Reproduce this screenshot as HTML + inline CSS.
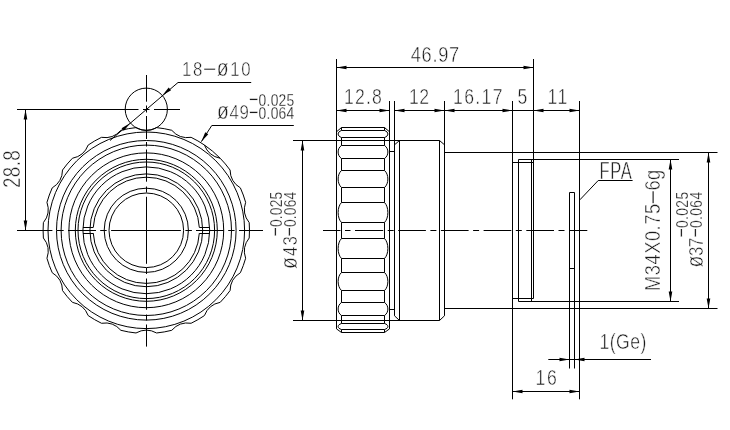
<!DOCTYPE html>
<html><head><meta charset="utf-8"><style>
html,body{margin:0;padding:0;background:#fff;}
svg{display:block;will-change:transform;}
.g line,.g circle,.g path,.g polyline{fill:none;stroke:#000;stroke-width:1;}
.g path.ar{fill:#000;stroke:none;}
.t text{font-family:"Liberation Sans",sans-serif;fill:#1a1a1a;stroke:#fff;stroke-width:0.5;}
</style></head><body>
<svg width="730" height="430" viewBox="0 0 730 430">
<rect width="730" height="430" fill="#fff"/>
<g class="g">
<circle cx="146.3" cy="230.3" r="37.3"/>
<circle cx="146.3" cy="230.3" r="42.1"/>
<circle cx="146.3" cy="230.3" r="56.4"/>
<circle cx="146.3" cy="230.3" r="68.3"/>
<circle cx="146.3" cy="230.3" r="71"/>
<circle cx="146.3" cy="230.3" r="77.4"/>
<circle cx="146.3" cy="230.3" r="85.2"/>
<circle cx="146.3" cy="230.3" r="89.8"/>
<circle cx="146.3" cy="230.3" r="98.3"/>
<circle cx="146.3" cy="230.3" r="63.4" stroke-width="1.7"/>
<path d="M199.32 227.4A53.1 53.1 0 0 0 93.28 227.4M93.28 233.2A53.1 53.1 0 0 0 199.32 233.2"/>
<line x1="199.33" y1="227.5" x2="209.64" y2="227.5"/>
<line x1="93.27" y1="227.5" x2="82.96" y2="227.5"/>
<line x1="199.3" y1="233.5" x2="209.62" y2="233.5"/>
<line x1="93.3" y1="233.5" x2="82.98" y2="233.5"/>
<path d="M156.6 127.62A21.1 21.1 0 0 1 136 127.62A103.2 103.2 0 0 0 120.86 130.29A21.1 21.1 0 0 1 101.5 137.33A103.2 103.2 0 0 0 88.19 145.02A21.1 21.1 0 0 1 72.41 158.26A103.2 103.2 0 0 0 62.52 170.04A21.1 21.1 0 0 1 52.22 187.88A103.2 103.2 0 0 0 46.96 202.33A21.1 21.1 0 0 1 43.39 222.61A103.2 103.2 0 0 0 43.39 237.99A21.1 21.1 0 0 1 46.96 258.27A103.2 103.2 0 0 0 52.22 272.72A21.1 21.1 0 0 1 62.52 290.56A103.2 103.2 0 0 0 72.41 302.34A21.1 21.1 0 0 1 88.19 315.58A103.2 103.2 0 0 0 101.5 323.27A21.1 21.1 0 0 1 120.86 330.31A103.2 103.2 0 0 0 136 332.98A21.1 21.1 0 0 1 156.6 332.98A103.2 103.2 0 0 0 171.74 330.31A21.1 21.1 0 0 1 191.1 323.27A103.2 103.2 0 0 0 204.41 315.58A21.1 21.1 0 0 1 220.19 302.34A103.2 103.2 0 0 0 230.08 290.56A21.1 21.1 0 0 1 240.38 272.72A103.2 103.2 0 0 0 245.64 258.27A21.1 21.1 0 0 1 249.21 237.99A103.2 103.2 0 0 0 249.21 222.61A21.1 21.1 0 0 1 245.64 202.33A103.2 103.2 0 0 0 240.38 187.88A21.1 21.1 0 0 1 230.08 170.04A103.2 103.2 0 0 0 220.19 158.26A21.1 21.1 0 0 1 204.41 145.02A103.2 103.2 0 0 0 191.1 137.33A21.1 21.1 0 0 1 171.74 130.29A103.2 103.2 0 0 0 156.6 127.62Z"/>
<path d="M220.19 158.26A103.2 103.2 0 0 0 204.41 145.02"/>
<circle cx="146.3" cy="109.2" r="21.1"/>
<line x1="146.5" y1="75" x2="146.5" y2="101.7"/>
<line x1="146.5" y1="105.5" x2="146.5" y2="112.5"/>
<line x1="146.5" y1="116" x2="146.5" y2="139"/>
<line x1="146.5" y1="142" x2="146.5" y2="146.5"/>
<line x1="146.5" y1="149.5" x2="146.5" y2="181.7"/>
<line x1="146.5" y1="186.5" x2="146.5" y2="192.5"/>
<line x1="146.5" y1="196.8" x2="146.5" y2="263.8"/>
<line x1="146.5" y1="268" x2="146.5" y2="274"/>
<line x1="146.5" y1="278.5" x2="146.5" y2="309.8"/>
<line x1="146.5" y1="314.5" x2="146.5" y2="320.5"/>
<line x1="146.5" y1="324.5" x2="146.5" y2="346.6"/>
<line x1="17" y1="230.5" x2="52.4" y2="230.5"/>
<line x1="57" y1="230.5" x2="63.7" y2="230.5"/>
<line x1="68" y1="230.5" x2="96" y2="230.5"/>
<line x1="100.2" y1="230.5" x2="106.7" y2="230.5"/>
<line x1="111.1" y1="230.5" x2="180.9" y2="230.5"/>
<line x1="185.4" y1="230.5" x2="191.9" y2="230.5"/>
<line x1="196" y1="230.5" x2="223.9" y2="230.5"/>
<line x1="228.2" y1="230.5" x2="234.6" y2="230.5"/>
<line x1="239" y1="230.5" x2="263" y2="230.5"/>
<line x1="17" y1="109.5" x2="138.5" y2="109.5"/>
<line x1="143" y1="109.5" x2="149.5" y2="109.5"/>
<line x1="154" y1="109.5" x2="180" y2="109.5"/>
<line x1="25.5" y1="109.5" x2="25.5" y2="230.5"/>
<path class="ar" d="M25.5 109.5L27.3 119.5L23.7 119.5Z"/>
<path class="ar" d="M25.5 230.5L23.7 220.5L27.3 220.5Z"/>
<line x1="110" y1="140.5" x2="178" y2="82.5"/>
<line x1="178" y1="82.5" x2="251.2" y2="82.5"/>
<path class="ar" d="M162.29 95.43L168.69 87.54L171.04 90.27Z"/>
<path class="ar" d="M130.31 122.97L123.91 130.86L121.56 128.13Z"/>
<line x1="201.3" y1="141.7" x2="211.8" y2="125.5"/>
<line x1="211.8" y1="125.5" x2="293.8" y2="125.5"/>
<path class="ar" d="M201.3 141.7L205.23 132.33L208.25 134.29Z"/>
<line x1="336.5" y1="59" x2="336.5" y2="328.9"/>
<line x1="533.5" y1="59" x2="533.5" y2="298.5"/>
<line x1="336.5" y1="67.5" x2="533.5" y2="67.5"/>
<path class="ar" d="M336.5 67.5L346.5 65.7L346.5 69.3Z"/>
<path class="ar" d="M533.5 67.5L523.5 69.3L523.5 65.7Z"/>
<line x1="336.5" y1="110.5" x2="389.5" y2="110.5"/>
<line x1="394.5" y1="110.5" x2="579.5" y2="110.5"/>
<path class="ar" d="M336.5 110.5L346.5 108.7L346.5 112.3Z"/>
<path class="ar" d="M389.5 110.5L379.5 112.3L379.5 108.7Z"/>
<path class="ar" d="M394.5 110.5L404.5 108.7L404.5 112.3Z"/>
<path class="ar" d="M444.5 110.5L434.5 112.3L434.5 108.7Z"/>
<path class="ar" d="M444.5 110.5L454.5 108.7L454.5 112.3Z"/>
<path class="ar" d="M512.5 110.5L502.5 112.3L502.5 108.7Z"/>
<path class="ar" d="M533.5 110.5L543.5 108.7L543.5 112.3Z"/>
<path class="ar" d="M579.5 110.5L569.5 112.3L569.5 108.7Z"/>
<line x1="389.5" y1="101" x2="389.5" y2="328.9"/>
<line x1="394.5" y1="101" x2="394.5" y2="315.8"/>
<line x1="444.5" y1="101" x2="444.5" y2="315.8"/>
<line x1="512.5" y1="101" x2="512.5" y2="399.3"/>
<line x1="579.5" y1="101" x2="579.5" y2="399.3"/>
<polyline points="336.5,131.8 341.5,127.5 384.5,127.5 389.5,131.8"/>
<polyline points="336.5,328.9 341.5,332.5 384.5,332.5 389.5,328.9"/>
<line x1="341.5" y1="130.5" x2="384.5" y2="130.5"/>
<line x1="341.5" y1="137.5" x2="384.5" y2="137.5"/>
<line x1="341.5" y1="145.5" x2="384.5" y2="145.5"/>
<line x1="341.5" y1="158.5" x2="384.5" y2="158.5"/>
<line x1="341.5" y1="170.5" x2="384.5" y2="170.5"/>
<line x1="341.5" y1="187.5" x2="384.5" y2="187.5"/>
<line x1="341.5" y1="202.5" x2="384.5" y2="202.5"/>
<line x1="341.5" y1="222.5" x2="384.5" y2="222.5"/>
<line x1="341.5" y1="238.5" x2="384.5" y2="238.5"/>
<line x1="341.5" y1="258.5" x2="384.5" y2="258.5"/>
<line x1="341.5" y1="272.5" x2="384.5" y2="272.5"/>
<line x1="341.5" y1="290.5" x2="384.5" y2="290.5"/>
<line x1="341.5" y1="302.5" x2="384.5" y2="302.5"/>
<line x1="341.5" y1="315.5" x2="384.5" y2="315.5"/>
<line x1="341.5" y1="323.5" x2="384.5" y2="323.5"/>
<line x1="341.5" y1="329.5" x2="384.5" y2="329.5"/>
<line x1="341.5" y1="222.5" x2="341.5" y2="238.5"/>
<line x1="384.5" y1="222.5" x2="384.5" y2="238.5"/>
<path d="M341.5 202.5C337 206.9 337 218.1 341.5 222.5"/>
<path d="M384.5 202.5C389 206.9 389 218.1 384.5 222.5"/>
<path d="M341.5 238.5C337 242.9 337 254.1 341.5 258.5"/>
<path d="M384.5 238.5C389 242.9 389 254.1 384.5 258.5"/>
<line x1="341.5" y1="187.5" x2="341.5" y2="202.5"/>
<line x1="384.5" y1="187.5" x2="384.5" y2="202.5"/>
<line x1="341.5" y1="258.5" x2="341.5" y2="272.5"/>
<line x1="384.5" y1="258.5" x2="384.5" y2="272.5"/>
<path d="M341.5 170.5C337 174.24 337 183.76 341.5 187.5"/>
<path d="M384.5 170.5C389 174.24 389 183.76 384.5 187.5"/>
<path d="M341.5 272.5C337 276.46 337 286.54 341.5 290.5"/>
<path d="M384.5 272.5C389 276.46 389 286.54 384.5 290.5"/>
<line x1="341.5" y1="158.5" x2="341.5" y2="170.5"/>
<line x1="384.5" y1="158.5" x2="384.5" y2="170.5"/>
<line x1="341.5" y1="290.5" x2="341.5" y2="302.5"/>
<line x1="384.5" y1="290.5" x2="384.5" y2="302.5"/>
<path d="M341.5 145.5C337 148.36 337 155.64 341.5 158.5"/>
<path d="M384.5 145.5C389 148.36 389 155.64 384.5 158.5"/>
<path d="M341.5 302.5C337 305.36 337 312.64 341.5 315.5"/>
<path d="M384.5 302.5C389 305.36 389 312.64 384.5 315.5"/>
<line x1="341.5" y1="137.5" x2="341.5" y2="145.5"/>
<line x1="384.5" y1="137.5" x2="384.5" y2="145.5"/>
<line x1="341.5" y1="315.5" x2="341.5" y2="323.5"/>
<line x1="384.5" y1="315.5" x2="384.5" y2="323.5"/>
<path d="M341.5 130.5C337 132.04 337 135.96 341.5 137.5"/>
<path d="M384.5 130.5C389 132.04 389 135.96 384.5 137.5"/>
<path d="M341.5 323.5C337 324.82 337 328.18 341.5 329.5"/>
<path d="M384.5 323.5C389 324.82 389 328.18 384.5 329.5"/>
<line x1="341.5" y1="127.5" x2="341.5" y2="130.5"/>
<line x1="384.5" y1="127.5" x2="384.5" y2="130.5"/>
<line x1="341.5" y1="329.5" x2="341.5" y2="332.5"/>
<line x1="384.5" y1="329.5" x2="384.5" y2="332.5"/>
<line x1="389.5" y1="151.5" x2="394.5" y2="151.5"/>
<line x1="389.5" y1="309.5" x2="394.5" y2="309.5"/>
<line x1="293" y1="140.5" x2="439.5" y2="140.5"/>
<line x1="293" y1="320.5" x2="439.5" y2="320.5"/>
<line x1="394.5" y1="144.8" x2="399.5" y2="140.5"/>
<line x1="439.5" y1="140.5" x2="444.5" y2="144.8"/>
<line x1="394.5" y1="315.8" x2="399.5" y2="320.5"/>
<line x1="439.5" y1="320.5" x2="444.5" y2="315.8"/>
<line x1="399.5" y1="140.5" x2="399.5" y2="320.5"/>
<line x1="439.5" y1="140.5" x2="439.5" y2="320.5"/>
<line x1="302.5" y1="140.5" x2="302.5" y2="320.5"/>
<path class="ar" d="M302.5 140.5L304.3 150.5L300.7 150.5Z"/>
<path class="ar" d="M302.5 320.5L300.7 310.5L304.3 310.5Z"/>
<line x1="444.5" y1="152.5" x2="717.5" y2="152.5"/>
<line x1="444.5" y1="308.5" x2="717.5" y2="308.5"/>
<line x1="512.5" y1="162.5" x2="533.5" y2="162.5"/>
<line x1="512.5" y1="298.5" x2="533.5" y2="298.5"/>
<line x1="518.5" y1="159.5" x2="518.5" y2="301.5"/>
<line x1="531.5" y1="159.5" x2="531.5" y2="301.5"/>
<line x1="518.5" y1="159.5" x2="679" y2="159.5"/>
<line x1="518.5" y1="301.5" x2="679" y2="301.5"/>
<line x1="670.5" y1="159.5" x2="670.5" y2="301.5"/>
<path class="ar" d="M670.5 159.5L672.3 169.5L668.7 169.5Z"/>
<path class="ar" d="M670.5 301.5L668.7 291.5L672.3 291.5Z"/>
<line x1="708.5" y1="152.5" x2="708.5" y2="308.5"/>
<path class="ar" d="M708.5 152.5L710.3 162.5L706.7 162.5Z"/>
<path class="ar" d="M708.5 308.5L706.7 298.5L710.3 298.5Z"/>
<line x1="569.5" y1="192.5" x2="569.5" y2="368.5"/>
<line x1="574.5" y1="192.5" x2="574.5" y2="368.5"/>
<line x1="569.5" y1="192.5" x2="574.5" y2="192.5"/>
<line x1="569.5" y1="268.5" x2="574.5" y2="268.5"/>
<polyline points="579.9,199.8 598.2,180.5 632.6,180.5"/>
<line x1="548.3" y1="359.5" x2="651" y2="359.5"/>
<path class="ar" d="M569.5 359.5L559.5 361.3L559.5 357.7Z"/>
<path class="ar" d="M574.5 359.5L584.5 357.7L584.5 361.3Z"/>
<line x1="512.5" y1="391.5" x2="579.5" y2="391.5"/>
<path class="ar" d="M512.5 391.5L522.5 389.7L522.5 393.3Z"/>
<path class="ar" d="M579.5 391.5L569.5 393.3L569.5 389.7Z"/>
<line x1="323" y1="230.5" x2="340.5" y2="230.5"/>
<line x1="345" y1="230.5" x2="350.5" y2="230.5"/>
<line x1="355" y1="230.5" x2="383.2" y2="230.5"/>
<line x1="387.7" y1="230.5" x2="393.7" y2="230.5"/>
<line x1="398.2" y1="230.5" x2="425.9" y2="230.5"/>
<line x1="430.4" y1="230.5" x2="436.4" y2="230.5"/>
<line x1="440.9" y1="230.5" x2="468.6" y2="230.5"/>
<line x1="473.1" y1="230.5" x2="479.1" y2="230.5"/>
<line x1="483.6" y1="230.5" x2="511.3" y2="230.5"/>
<line x1="515.8" y1="230.5" x2="521.8" y2="230.5"/>
<line x1="526.3" y1="230.5" x2="554" y2="230.5"/>
<line x1="558.5" y1="230.5" x2="564.5" y2="230.5"/>
<line x1="569" y1="230.5" x2="587.3" y2="230.5"/>
</g>
<g class="t">
<text transform="translate(182 76) scale(0.8 1)" font-size="21" textLength="85.8" lengthAdjust="spacing">18<tspan font-size="25.2">–</tspan><tspan font-size="24.15">ø</tspan>10</text>
<text transform="translate(217 119) scale(0.8 1)" font-size="21" textLength="39.95" lengthAdjust="spacing"><tspan font-size="24.15">ø</tspan>49</text>
<text transform="translate(249 105.5) scale(0.8 1)" font-size="17.3" textLength="56.62" lengthAdjust="spacing" style="stroke-width:0.25"><tspan font-size="19.89">−</tspan>0.025</text>
<text transform="translate(249 119) scale(0.8 1)" font-size="17.3" textLength="56.62" lengthAdjust="spacing" style="stroke-width:0.25"><tspan font-size="19.89">−</tspan>0.064</text>
<text transform="translate(20.2 188) rotate(-90) scale(0.8 1)" font-size="23.5" textLength="47.1" lengthAdjust="spacing">28.8</text>
<text transform="translate(410.7 62) scale(0.8 1)" font-size="22.8" textLength="60.6" lengthAdjust="spacing">46.97</text>
<text transform="translate(344 104) scale(0.8 1)" font-size="22" textLength="47.25" lengthAdjust="spacing">12.8</text>
<text transform="translate(409 104) scale(0.8 1)" font-size="22" textLength="25.1" lengthAdjust="spacing">12</text>
<text transform="translate(453 104) scale(0.8 1)" font-size="22" textLength="61.85" lengthAdjust="spacing">16.17</text>
<text transform="translate(517.5 104) scale(0.8 1)" font-size="22" textLength="37.35" lengthAdjust="spacing">5</text>
<text transform="translate(547.5 104) scale(0.8 1)" font-size="22" textLength="24.7" lengthAdjust="spacing">11</text>
<text transform="translate(599.5 179) scale(0.72 1)" font-size="23" textLength="45.04" lengthAdjust="spacing">FPA</text>
<text transform="translate(660 291) rotate(-90) scale(0.8 1)" font-size="22.8" textLength="151.55" lengthAdjust="spacing">M34X0.75<tspan font-size="27.36">–</tspan>6g</text>
<text transform="translate(702.5 267.5) rotate(-90) scale(0.8 1)" font-size="21" textLength="37.2" lengthAdjust="spacing"><tspan font-size="24.15">ø</tspan>37</text>
<text transform="translate(687.9 237.5) rotate(-90) scale(0.8 1)" font-size="17.3" textLength="57" lengthAdjust="spacing" style="stroke-width:0.25"><tspan font-size="19.89">−</tspan>0.025</text>
<text transform="translate(702.3 237.5) rotate(-90) scale(0.8 1)" font-size="17.3" textLength="57" lengthAdjust="spacing" style="stroke-width:0.25"><tspan font-size="19.89">−</tspan>0.064</text>
<text transform="translate(296.7 269) rotate(-90) scale(0.8 1)" font-size="21" textLength="41.05" lengthAdjust="spacing"><tspan font-size="24.15">ø</tspan>43</text>
<text transform="translate(282.4 236.5) rotate(-90) scale(0.8 1)" font-size="17.3" textLength="56" lengthAdjust="spacing" style="stroke-width:0.25"><tspan font-size="19.89">−</tspan>0.025</text>
<text transform="translate(296.3 236.5) rotate(-90) scale(0.8 1)" font-size="17.3" textLength="56" lengthAdjust="spacing" style="stroke-width:0.25"><tspan font-size="19.89">−</tspan>0.064</text>
<text transform="translate(599.5 349) scale(0.8 1)" font-size="22" textLength="58.55" lengthAdjust="spacing">1(Ge)</text>
<text transform="translate(535.5 385.3) scale(0.8 1)" font-size="22" textLength="26.65" lengthAdjust="spacing">16</text>
</g>
</svg>
</body></html>
